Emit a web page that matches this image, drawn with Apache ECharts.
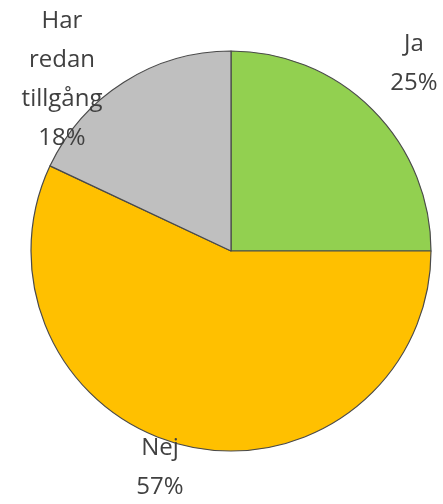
<!DOCTYPE html>
<html>
<head>
<meta charset="utf-8">
<script src="https://cdn.jsdelivr.net/npm/echarts@6/dist/echarts.min.js"></script>
<style>
  html, body { margin: 0; padding: 0; background: #fff; }
  #main { width: 443px; height: 504px; }
</style>
</head>
<body>
<div id="main"></div>
<script>
var categories = ['Ja', 'Nej', 'Har\nredan\ntillgång'];
var values = [25, 57, 18];
var colors = ['#92D050', '#FFC000', '#BFBFBF'];
// where each label block sits (centre), like Excel's best fit
var labelSpots = [[414, 64], [160, 468], [62, 80]];

var myChart = echarts.init(document.getElementById('main'));

myChart.setOption({
    animation: false,
    series: [{
        type: 'pie',
        center: [231, 251],
        radius: 200,
        startAngle: 90,
        clockwise: true,
        avoidLabelOverlap: false,
        data: categories.map(function (c, i) {
            return { name: c, value: values[i], itemStyle: { color: colors[i] } };
        }),
        itemStyle: {
            borderColor: '#4a4a4a',
            borderWidth: 1.2
        },
        label: {
            show: true,
            position: 'outside',
            overflow: 'none',
            formatter: function (p) { return p.name + '\n' + Math.round(p.percent) + '%'; },
            fontFamily: 'Open Sans',
            fontSize: 24,
            lineHeight: 39,
            color: '#404040',
            align: 'center'
        },
        labelLine: { show: false },
        labelLayout: function (params) {
            var s = labelSpots[params.dataIndex];
            return { x: s[0], y: s[1], align: 'center', verticalAlign: 'middle' };
        }
    }]
});
</script>
</body>
</html>
